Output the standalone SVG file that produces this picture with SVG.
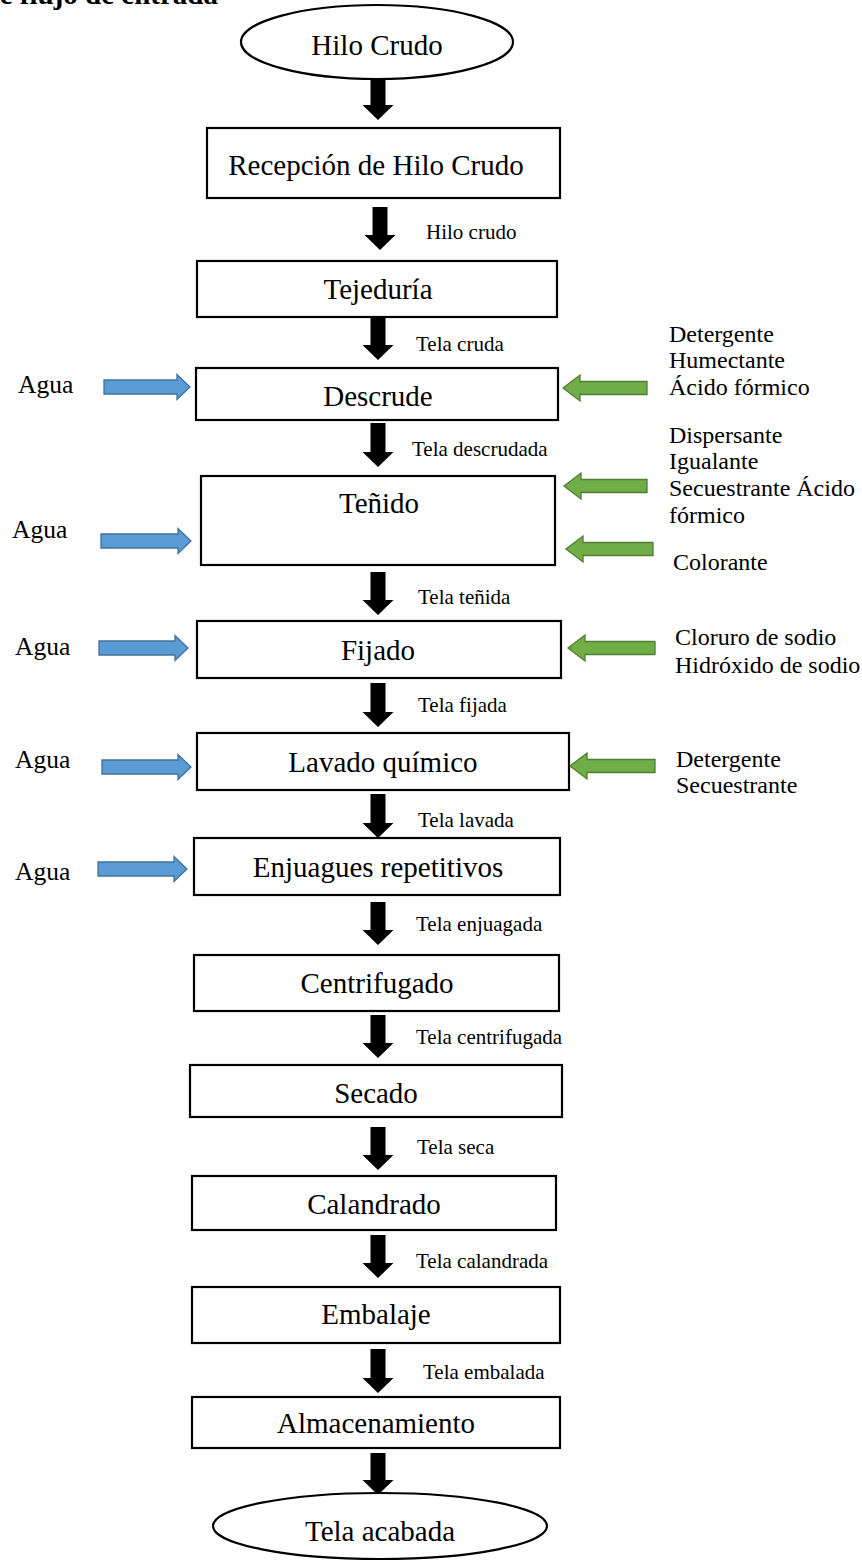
<svg xmlns="http://www.w3.org/2000/svg" width="862" height="1561" viewBox="0 0 862 1561">
<style>
.box{fill:#fff;stroke:#000;stroke-width:2.2}
.nt{font-family:"Liberation Serif","Times New Roman",serif;font-size:29px;fill:#000;text-anchor:middle}
.lb{font-family:"Liberation Serif","Times New Roman",serif;font-size:21px;fill:#000}
.rt{font-family:"Liberation Serif","Times New Roman",serif;font-size:24px;fill:#000}
.ag{font-family:"Liberation Serif","Times New Roman",serif;font-size:25.5px;fill:#000}
.ttl{font-family:"Liberation Serif","Times New Roman",serif;font-size:29px;font-weight:bold;fill:#000;text-anchor:end}
.blk{fill:#000}
.blue{fill:#5B9BD5;stroke:#41719C;stroke-width:1.3}
.green{fill:#70AD47;stroke:#507E32;stroke-width:1.3}
</style>
<rect x="0" y="0" width="862" height="1561" fill="#fff"/>
<text class="ttl" x="218" y="4">Diagrama de flujo de entrada</text>

<g id="connectors">
<path class="blk" d="M370.5,80 H385.5 V105 H393.5 L378,120 L362.5,105 H370.5 Z"/>
<path class="blk" d="M372.5,207 H387.5 V235 H395.5 L380,250 L364.5,235 H372.5 Z"/>
<path class="blk" d="M370.5,317 H385.5 V345 H393.5 L378,360 L362.5,345 H370.5 Z"/>
<path class="blk" d="M370.5,423 H385.5 V452 H393.5 L378,467 L362.5,452 H370.5 Z"/>
<path class="blk" d="M370.5,572 H385.5 V600 H393.5 L378,615 L362.5,600 H370.5 Z"/>
<path class="blk" d="M370.5,683 H385.5 V712 H393.5 L378,727 L362.5,712 H370.5 Z"/>
<path class="blk" d="M370.5,794 H385.5 V823 H393.5 L378,838 L362.5,823 H370.5 Z"/>
<path class="blk" d="M370.5,902 H385.5 V930 H393.5 L378,945 L362.5,930 H370.5 Z"/>
<path class="blk" d="M370.5,1015 H385.5 V1043 H393.5 L378,1058 L362.5,1043 H370.5 Z"/>
<path class="blk" d="M370.5,1127 H385.5 V1155 H393.5 L378,1170 L362.5,1155 H370.5 Z"/>
<path class="blk" d="M370.5,1235 H385.5 V1263 H393.5 L378,1278 L362.5,1263 H370.5 Z"/>
<path class="blk" d="M370.5,1349 H385.5 V1378 H393.5 L378,1393 L362.5,1378 H370.5 Z"/>
<path class="blk" d="M370.5,1453 H385.5 V1480 H393.5 L378,1495 L362.5,1480 H370.5 Z"/>

<path class="blue" d="M104,380 H177 V374.5 L190,387 L177,399.5 V394 H104 Z"/>
<path class="blue" d="M101,534 H178 V528.5 L191,541 L178,553.5 V548 H101 Z"/>
<path class="blue" d="M99,641 H175 V635.5 L188,648 L175,660.5 V655 H99 Z"/>
<path class="blue" d="M102,760 H178 V754.5 L191,767 L178,779.5 V774 H102 Z"/>
<path class="blue" d="M98,862 H174 V856.5 L187,869 L174,881.5 V876 H98 Z"/>

<path class="green" d="M647,381.5 H580 V375 L563,388 L580,401 V394.5 H647 Z"/>
<path class="green" d="M647,479.5 H581 V473 L564,486 L581,499 V492.5 H647 Z"/>
<path class="green" d="M653,542.5 H583 V536 L566,549 L583,562 V555.5 H653 Z"/>
<path class="green" d="M655,641.5 H585 V635 L568,648 L585,661 V654.5 H655 Z"/>
<path class="green" d="M655,759.5 H587 V753 L570,766 L587,779 V772.5 H655 Z"/>

<text class="lb" x="426" y="239">Hilo crudo</text>
<text class="lb" x="416" y="351">Tela cruda</text>
<text class="lb" x="412" y="456">Tela descrudada</text>
<text class="lb" x="418" y="604">Tela teñida</text>
<text class="lb" x="418" y="712">Tela fijada</text>
<text class="lb" x="418" y="827">Tela lavada</text>
<text class="lb" x="416" y="931">Tela enjuagada</text>
<text class="lb" x="416" y="1044">Tela centrifugada</text>
<text class="lb" x="417" y="1154">Tela seca</text>
<text class="lb" x="416" y="1268">Tela calandrada</text>
<text class="lb" x="423" y="1379">Tela embalada</text>
</g>

<g id="inputs">
<text class="ag" x="18" y="393">Agua</text>
<text class="ag" x="12" y="538">Agua</text>
<text class="ag" x="15" y="655">Agua</text>
<text class="ag" x="15" y="768">Agua</text>
<text class="ag" x="15" y="880">Agua</text>

<text class="rt" x="669" y="342">Detergente</text>
<text class="rt" x="669" y="368">Humectante</text>
<text class="rt" x="669" y="395">Ácido fórmico</text>
<text class="rt" x="669" y="443">Dispersante</text>
<text class="rt" x="669" y="469">Igualante</text>
<text class="rt" x="669" y="496">Secuestrante Ácido</text>
<text class="rt" x="669" y="523">fórmico</text>
<text class="rt" x="673" y="570">Colorante</text>
<text class="rt" x="675" y="645">Cloruro de sodio</text>
<text class="rt" x="675" y="673">Hidróxido de sodio</text>
<text class="rt" x="676" y="767">Detergente</text>
<text class="rt" x="676" y="793">Secuestrante</text>
</g>

<g id="n-hilo-crudo">
<ellipse class="box" cx="377" cy="42" rx="136" ry="37"/>
<text class="nt" x="377" y="55">Hilo Crudo</text>
</g>
<g id="n-recepcion">
<rect class="box" x="207" y="128" width="353" height="70"/>
<text class="nt" x="376" y="175">Recepción de Hilo Crudo</text>
</g>
<g id="n-tejeduria">
<rect class="box" x="197" y="261" width="360" height="56"/>
<text class="nt" x="378" y="299">Tejeduría</text>
</g>
<g id="n-descrude">
<rect class="box" x="196" y="368" width="362" height="52"/>
<text class="nt" x="378" y="406">Descrude</text>
</g>
<g id="n-tenido">
<rect class="box" x="201" y="476" width="354" height="89"/>
<text class="nt" x="379" y="513">Teñido</text>
</g>
<g id="n-fijado">
<rect class="box" x="197" y="621" width="364" height="57"/>
<text class="nt" x="378" y="660">Fijado</text>
</g>
<g id="n-lavado">
<rect class="box" x="197" y="733" width="372" height="57"/>
<text class="nt" x="383" y="772">Lavado químico</text>
</g>
<g id="n-enjuagues">
<rect class="box" x="194" y="838" width="366" height="57"/>
<text class="nt" x="378" y="877">Enjuagues repetitivos</text>
</g>
<g id="n-centrifugado">
<rect class="box" x="194" y="955" width="365" height="56"/>
<text class="nt" x="377" y="993">Centrifugado</text>
</g>
<g id="n-secado">
<rect class="box" x="190" y="1065" width="372" height="52"/>
<text class="nt" x="376" y="1103">Secado</text>
</g>
<g id="n-calandrado">
<rect class="box" x="192" y="1176" width="364" height="54"/>
<text class="nt" x="374" y="1214">Calandrado</text>
</g>
<g id="n-embalaje">
<rect class="box" x="192" y="1287" width="368" height="56"/>
<text class="nt" x="376" y="1324">Embalaje</text>
</g>
<g id="n-almacenamiento">
<rect class="box" x="192" y="1397" width="368" height="51"/>
<text class="nt" x="376" y="1433">Almacenamiento</text>
</g>
<g id="n-tela-acabada">
<ellipse class="box" cx="380" cy="1526" rx="167" ry="33"/>
<text class="nt" x="380" y="1541">Tela acabada</text>
</g>
</svg>
